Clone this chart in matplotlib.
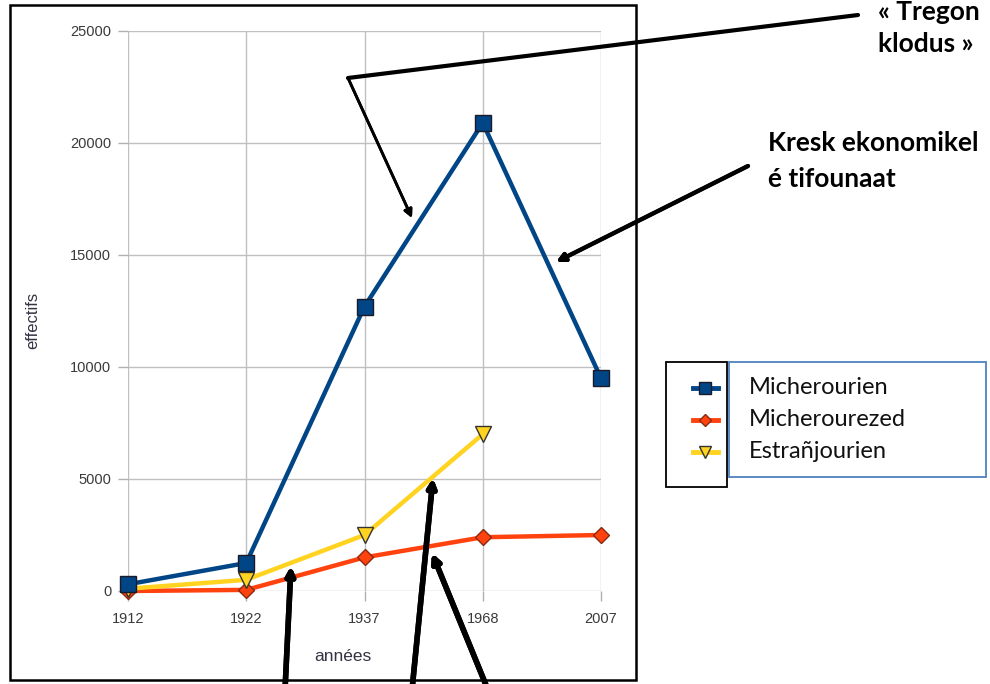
import matplotlib.pyplot as plt
from matplotlib.lines import Line2D
from matplotlib.patches import Rectangle

# data
years = ['1912', '1922', '1937', '1968', '2007']
micherourien = [300, 1250, 12700, 20900, 9500]
micherourezed = [0, 50, 1500, 2400, 2500]
estranjourien = [100, 500, 2500, 7000]
series_names = ['Micherourien', 'Micherourezed', 'Estrañjourien']

W, H = 990, 684
fig = plt.figure(figsize=(W / 100, H / 100), dpi=100)


def fx(px):
    return px / W


def fy(py):
    return 1 - py / H


ax = fig.add_axes([fx(128), fy(591), fx(601) - fx(128), fy(31) - fy(591)])

x = list(range(len(years)))
blue = '#004586'
red = '#ff420e'
yellow = '#ffd320'

ax.plot(x, micherourien, color=blue, lw=3.2, marker='s', ms=11, mfc=blue, mec='#1a1a2a', mew=1, zorder=4,
        clip_on=False)
ax.plot(x, micherourezed, color=red, lw=3.2, marker='D', ms=8, mfc=red, mec='#8a2a10', mew=1, zorder=3,
        clip_on=False)
ax.plot(x[:len(estranjourien)], estranjourien, color=yellow, lw=3.2, marker='v', ms=11, mfc=yellow,
        mec='#333333', mew=1, zorder=3, clip_on=False)

ax.set_xlim(0, 4)
ax.set_ylim(0, 25000)
ax.set_xticks(x)
ax.set_xticklabels(years)
ax.set_yticks(range(0, 25001, 5000))
ax.grid(color='#c0c0c0', linewidth=1)
ax.set_axisbelow(True)
for s in ax.spines.values():
    s.set_visible(False)
ax.tick_params(axis='both', color='#b0b0b0', length=7, width=1, labelsize=10.5, labelcolor='#3a3a3a', pad=5)
ax.tick_params(axis='x', pad=8)
for lab in ax.get_xticklabels() + ax.get_yticklabels():
    lab.set_family('Liberation Sans')
ax.set_xlabel('années', fontsize=12.5, color='#333344', family='Liberation Sans')
ax.xaxis.set_label_coords((343 - 128) / (601 - 128), -0.103)
ax.set_ylabel('effectifs', fontsize=12, color='#333344', family='Liberation Sans')
ax.yaxis.set_label_coords((40 - 128) / (601 - 128), (591 - 320) / 560)

# frame around the chart
fig.add_artist(Rectangle((fx(10), fy(680)), fx(636) - fx(10), fy(5) - fy(680), transform=fig.transFigure,
                         fill=False, ec='black', lw=1.8))

# legend
fig.add_artist(Rectangle((fx(666), fy(487)), fx(727) - fx(666), fy(362) - fy(487), transform=fig.transFigure,
                         fill=False, ec='black', lw=1.3))
fig.add_artist(Rectangle((fx(729), fy(477)), fx(986) - fx(729), fy(362) - fy(477), transform=fig.transFigure,
                         fill=False, ec='#4f81bd', lw=1.3))
leg_styles = [(blue, 's', 8, '#1a1a2a'), (red, 'D', 6, '#8a2a10'), (yellow, 'v', 8, '#333333')]
leg_y = [388, 420, 452]
for name, (c, m, ms, ec), ly in zip(series_names, leg_styles, leg_y):
    fig.add_artist(Line2D([fx(693), fx(718)], [fy(ly), fy(ly)], transform=fig.transFigure, color=c, lw=3.5))
    fig.add_artist(Line2D([fx(705)], [fy(ly)], transform=fig.transFigure, color=c, marker=m, ms=ms,
                          mfc=c, mec=ec, mew=1, ls='none'))
    fig.text(fx(749), fy(ly), name, fontsize=17, family='Lato', va='center', ha='left', color='#111111')

# annotations
fig.text(fx(878), fy(12), '« Tregon', fontsize=19, family='Lato', weight='bold', va='center', ha='left')
fig.text(fx(878), fy(44), 'klodus »', fontsize=19, family='Lato', weight='bold', va='center', ha='left')
fig.text(fx(768), fy(143), 'Kresk ekonomikel', fontsize=19, family='Lato', weight='bold', va='center', ha='left')
fig.text(fx(768), fy(179), 'é tifounaat', fontsize=19, family='Lato', weight='bold', va='center', ha='left')

fig.add_artist(Line2D([fx(858), fx(348)], [fy(15), fy(78)], transform=fig.transFigure, color='black', lw=3,
                      solid_capstyle='round'))
arrows = [((348, 78), (412, 218), 2.0),
          ((748, 166), (556, 262), 3.0),
          ((285, 690), (291, 566), 4.0),
          ((412, 690), (433, 478), 4.0),
          ((488, 690), (432, 553), 4.0)]
for (x0, y0), (x1, y1), lw in arrows:
    fig.add_artist(plt.annotate('', xy=(fx(x1), fy(y1)), xytext=(fx(x0), fy(y0)), xycoords='figure fraction',
                                textcoords='figure fraction',
                                arrowprops=dict(arrowstyle='-|>', color='black', lw=lw, mutation_scale=12,
                                                shrinkA=0, shrinkB=0)))

fig.savefig('out.png', dpi=100)
